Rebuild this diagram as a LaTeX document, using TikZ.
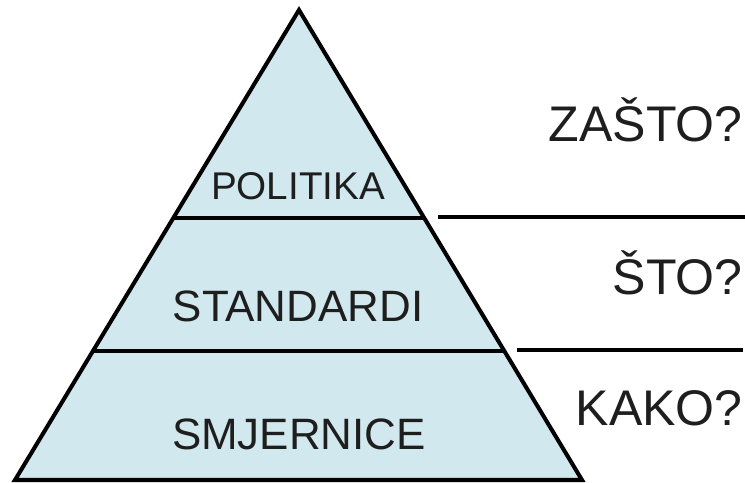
\documentclass[tikz,border=0pt]{standalone}
\usepackage{fontspec}
\setmainfont{Liberation Sans}
\definecolor{pyrfill}{RGB}{208,232,238}
\definecolor{txtgray}{RGB}{30,30,30}
\tikzset{
  level/.style={font=\fontsize{25}{29}\selectfont,text=txtgray,inner sep=0pt,anchor=base},
  question/.style={font=\fontsize{28.5}{32}\selectfont,text=txtgray,inner sep=0pt,anchor=base east},
  rule/.style={line width=2.3pt}
}
\begin{document}
\begin{tikzpicture}[x=0.02cm,y=-0.02cm]
    \useasboundingbox (0,0) rectangle (745,483);

    % Pyramid
    \coordinate (apex) at (299,10);
    \coordinate (bl) at (15,480);
    \coordinate (br) at (582,480);
    \filldraw[fill=pyrfill,rule,line join=miter] (apex) -- (br) -- (bl) -- cycle;
    \draw[rule] (173,218) -- (424,218);
    \draw[rule] (93,351) -- (504,351);

    % Levels
    \node[level,font=\fontsize{22}{26}\selectfont] (politika) at (298,200) {POLITIKA};
    \node[level] (standardi) at (298,322) {STANDARDI};
    \node[level] (smjernice) at (299,450) {SMJERNICE};

    % Questions
    \coordinate (r1a) at (438,217);
    \coordinate (r1b) at (745,217);
    \coordinate (r2a) at (517,350);
    \coordinate (r2b) at (743,350);
    \draw[rule] (r1a) -- (r1b);
    \draw[rule] (r2a) -- (r2b);
    \node[question] (zasto) at (743,142) {ZAŠTO?};
    \node[question] (sto) at (743,295) {ŠTO?};
    \node[question] (kako) at (743,425) {KAKO?};
  \end{tikzpicture}
\end{document}
